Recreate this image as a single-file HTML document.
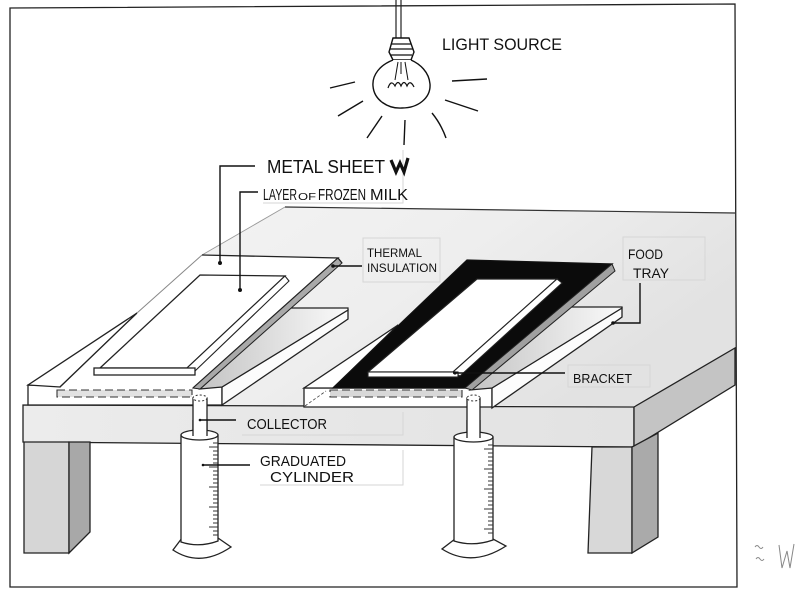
<!DOCTYPE html>
<html><head><meta charset="utf-8"><style>
html,body{margin:0;padding:0;background:#fff;}
svg{display:block;}
text{font-family:"Liberation Sans",sans-serif;fill:#111;}
</style></head><body>
<svg width="803" height="600" viewBox="0 0 803 600" xmlns="http://www.w3.org/2000/svg">
<defs>
<linearGradient id="tt" x1="0" y1="0" x2="1" y2="0.4">
<stop offset="0" stop-color="#f5f5f5"/><stop offset="0.6" stop-color="#eeeeee"/><stop offset="1" stop-color="#e2e2e2"/>
</linearGradient>
<linearGradient id="sl" x1="0" y1="0" x2="1" y2="0">
<stop offset="0" stop-color="#c4c4c4"/><stop offset="1" stop-color="#fafafa"/>
</linearGradient>
<linearGradient id="ff" x1="0" y1="0" x2="1" y2="0">
<stop offset="0" stop-color="#ececec"/><stop offset="1" stop-color="#e2e2e2"/>
</linearGradient>
</defs>
<rect width="803" height="600" fill="#fff"/>

<!-- frame -->
<path d="M10 8 L735 4 L737 587 L10 587 Z" fill="none" stroke="#222" stroke-width="1.3"/>

<!-- table top -->
<polygon points="285,207 735,213 735,348 634,406 222,405 29,405 28,385 137,313 202,255" fill="url(#tt)"/>
<path d="M285 207 L735 213" stroke="#333" stroke-width="1.2" fill="none"/>
<path d="M285 207 L202 255" stroke="#9a9a9a" stroke-width="0.9" fill="none"/>
<!-- table front face -->
<polygon points="23,405 634,407 634,447 23,442" fill="url(#ff)" stroke="#222" stroke-width="1.3"/>
<!-- right side face -->
<polygon points="634,407 735,348 735,385 634,447" fill="#c4c4c4" stroke="#222" stroke-width="1.3"/>
<!-- legs -->
<polygon points="24,442 69,442 69,553 24,553" fill="#d6d6d6" stroke="#222" stroke-width="1.3"/>
<polygon points="69,442 90,442 90,532 69,553" fill="#a8a8a8" stroke="#222" stroke-width="1.3"/>
<polygon points="592,447 632,447 632,553 588,553" fill="#d8d8d8" stroke="#222" stroke-width="1.3"/>
<polygon points="632,447 658,433 658,537 632,553" fill="#aaaaaa" stroke="#222" stroke-width="1.3"/>

<!-- LEFT ASSEMBLY -->
<polygon points="28,385 222,387 222,405 28,405" fill="#fff" stroke="#222" stroke-width="1.3"/>
<polygon points="222,387 348,310 348,319 222,405" fill="#fcfcfc" stroke="#222" stroke-width="1.3"/>
<polygon points="200,389 290,308 348,308 348,310 222,387" fill="url(#sl)" stroke="#222" stroke-width="1.2"/>
<polygon points="28,385 137,313 60,387" fill="#fff" stroke="#222" stroke-width="1.3"/>
<polygon points="60,387 137,313 202,255 338,258 193,388" fill="#fff" stroke="none"/>
<path d="M60 387 L137 313" stroke="#222" stroke-width="1.3" fill="none"/>
<path d="M137 313 L202 255" stroke="#888" stroke-width="1" fill="none"/>
<path d="M202 255 L338 258 L193 388" stroke="#222" stroke-width="1.3" fill="none"/>
<polygon points="193,388 338,258 342,263 200,389" fill="#a9a9a9" stroke="#222" stroke-width="1"/>
<path d="M338 258 L342 263" stroke="#222" stroke-width="1.3"/>
<!-- milk layer left -->
<polygon points="100,368 200,275 285,276 187,368" fill="#fff" stroke="#222" stroke-width="1.3"/>
<polygon points="187,368 285,276 289,281 195,371" fill="#fff" stroke="#222" stroke-width="1.1"/>
<rect x="94" y="368" width="101" height="7" fill="#fff" stroke="#222" stroke-width="1.3"/>
<rect x="57" y="390" width="135" height="7" fill="#e2e2e2" stroke="#333" stroke-width="1.1" stroke-dasharray="8,4"/>

<!-- RIGHT ASSEMBLY -->
<polygon points="304,388 492,388 492,407 304,407" fill="#fff" stroke="#222" stroke-width="1.3"/>
<polygon points="492,388 622,308 622,317 492,408" fill="#fcfcfc" stroke="#222" stroke-width="1.3"/>
<polygon points="470,390 560,307 622,307 622,308 492,388" fill="url(#sl)" stroke="#222" stroke-width="1.2"/>
<polygon points="304,388 398,325 333,388" fill="#fff" stroke="#222" stroke-width="1.3"/>
<polygon points="333,388 467,260 612,264 465,388" fill="#0b0b0b" stroke="#111" stroke-width="1.3"/>
<polygon points="465,388 612,264 615,271 472,390" fill="#a0a0a0" stroke="#222" stroke-width="1"/>
<polygon points="368,372 477,279 557,279 453,372" fill="#fff" stroke="#222" stroke-width="1.2"/>
<polygon points="453,372 557,279 562,283 460,376" fill="#fff" stroke="#222" stroke-width="1.1"/>
<rect x="368" y="372" width="90" height="5" fill="#fff" stroke="#222" stroke-width="1.1"/>
<rect x="330" y="390" width="132" height="7" fill="#d8d8d8" stroke="#333" stroke-width="1.1" stroke-dasharray="8,4"/>
<path d="M305 406 L326 391" stroke="#444" stroke-width="0.8" stroke-dasharray="3,2" fill="none"/>

<!-- collectors -->
<rect x="193" y="398" width="14" height="38" fill="#fff" stroke="#222" stroke-width="1.3"/>
<ellipse cx="200" cy="398" rx="7" ry="3" fill="#fff" stroke="#333" stroke-width="1" stroke-dasharray="2,2"/>
<rect x="467" y="398" width="13" height="40" fill="#fff" stroke="#222" stroke-width="1.3"/>
<ellipse cx="473.5" cy="398" rx="6.5" ry="3" fill="#fff" stroke="#333" stroke-width="1" stroke-dasharray="2,2"/>

<!-- left cylinder -->
<path d="M182 538 L173 550 Q200 568 231 547 L218 538 Z" fill="#fff" stroke="#222" stroke-width="1.3"/>
<path d="M181 435 L181 542 Q199 548 218 541 L218 435" fill="#fff" stroke="#222" stroke-width="1.3"/>
<ellipse cx="199.5" cy="435" rx="18.5" ry="5" fill="#fff" stroke="#222" stroke-width="1.3"/>
<rect x="193" y="420" width="14" height="15" fill="#fff"/>
<path d="M193 420 L193 436 M207 420 L207 436" stroke="#222" stroke-width="1.3"/>
<path d="M213 443h5M209 447h9M213 451h5M213 455h5M213 459h5M213 463h5M209 467h9M213 471h5M213 475h5M213 479h5M213 483h5M209 487h9M213 491h5M213 495h5M213 499h5M213 503h5M209 507h9M213 511h5M213 515h5M213 519h5M213 523h5M209 527h9M213 531h5M213 535h5" stroke="#333" stroke-width="1"/>

<!-- right cylinder -->
<path d="M455 539 L442 549 Q472 568 506 546 L493 539 Z" fill="#fff" stroke="#222" stroke-width="1.3"/>
<path d="M454 437 L454 541 Q473 547 493 540 L493 437" fill="#fff" stroke="#222" stroke-width="1.3"/>
<ellipse cx="473.5" cy="437" rx="19.5" ry="5" fill="#fff" stroke="#222" stroke-width="1.3"/>
<rect x="467" y="420" width="13" height="17" fill="#fff"/>
<path d="M467 420 L467 438 M480 420 L480 438" stroke="#222" stroke-width="1.3"/>
<path d="M488 445h5M484 449h9M488 453h5M488 457h5M488 461h5M488 465h5M484 469h9M488 473h5M488 477h5M488 481h5M488 485h5M484 489h9M488 493h5M488 497h5M488 501h5M488 505h5M484 509h9M488 513h5M488 517h5M488 521h5M488 525h5M484 529h9M488 533h5" stroke="#333" stroke-width="1"/>

<!-- faint label boxes -->
<g stroke="#d6d6d6" stroke-width="1" fill="none">
<path d="M263 203 H403 V150"/>
<rect x="363" y="238" width="77" height="44"/>
<rect x="623" y="237" width="82" height="43"/>
<rect x="568" y="365" width="82" height="22"/>
<path d="M242 435 H403 V412"/>
<path d="M260 485 H403 V450"/>
</g>

<!-- leaders -->
<g stroke="#111" stroke-width="1.4" fill="none">
<path d="M255 166 H220 V263"/>
<path d="M258 192 H240 V290"/>
<path d="M333 266 H362"/>
<path d="M640 283 V323 H613"/>
<path d="M453 373 H565"/>
<path d="M200 420 H236"/>
<path d="M203 465 H250"/>
</g>
<g fill="#111">
<circle cx="220" cy="263" r="2"/>
<circle cx="240" cy="290" r="2"/>
<circle cx="333" cy="266" r="1.8"/>
<circle cx="613" cy="323" r="1.8"/>
<circle cx="455" cy="373" r="1.6"/>
<circle cx="200" cy="420" r="1.3"/>
<circle cx="203" cy="465" r="1.3"/>
</g>

<!-- labels -->
<text x="442" y="50" font-size="17" textLength="120" lengthAdjust="spacingAndGlyphs">LIGHT SOURCE</text>
<text x="267" y="173" font-size="18" textLength="118" lengthAdjust="spacingAndGlyphs">METAL SHEET</text>
<path d="M391 160 L396 172 L400 163 L404 172 L408 158" stroke="#111" stroke-width="3.2" fill="none"/>
<text x="263" y="200" font-size="16" textLength="34" lengthAdjust="spacingAndGlyphs">LAYER</text>
<text x="298" y="200" font-size="10" textLength="18" lengthAdjust="spacingAndGlyphs">OF</text>
<text x="318" y="200" font-size="16" textLength="48" lengthAdjust="spacingAndGlyphs">FROZEN</text>
<text x="370" y="200" font-size="16" textLength="38" lengthAdjust="spacingAndGlyphs">MILK</text>
<text x="367" y="257" font-size="12" textLength="55" lengthAdjust="spacingAndGlyphs">THERMAL</text>
<text x="367" y="272" font-size="12" textLength="70" lengthAdjust="spacingAndGlyphs">INSULATION</text>
<text x="628" y="259" font-size="14" textLength="35" lengthAdjust="spacingAndGlyphs">FOOD</text>
<text x="633" y="278" font-size="14" textLength="36" lengthAdjust="spacingAndGlyphs">TRAY</text>
<text x="573" y="383" font-size="13" textLength="59" lengthAdjust="spacingAndGlyphs">BRACKET</text>
<text x="247" y="429" font-size="15" textLength="80" lengthAdjust="spacingAndGlyphs">COLLECTOR</text>
<text x="260" y="466" font-size="15" textLength="86" lengthAdjust="spacingAndGlyphs">GRADUATED</text>
<text x="270" y="482" font-size="15" textLength="84" lengthAdjust="spacingAndGlyphs">CYLINDER</text>

<!-- light bulb -->
<path d="M396 0 V38 M401 0 V38" stroke="#222" stroke-width="1.2"/>
<path d="M393 38 L409 38 L414 52 L411 60 L393 60 L389 52 Z" fill="#fff" stroke="#111" stroke-width="1.4"/>
<path d="M391 44 H411 M390 49 H413 M391 55 H412" stroke="#111" stroke-width="1.3"/>
<path d="M393 60 C380 65 372 75 373 86 C374 100 388 109 402 108 C418 108 431 98 430 84 C429 72 420 64 411 60" fill="#fff" stroke="#111" stroke-width="1.4"/>
<path d="M398 62 L395 80 M405 62 L408 80 M401 62 L401 74" stroke="#111" stroke-width="1"/>
<path d="M388 88 Q391 79 395 86 Q398 79 401 86 Q404 79 407 86 Q410 79 414 87" stroke="#111" stroke-width="1.2" fill="none"/>
<g stroke="#111" stroke-width="1.4" fill="none">
<path d="M330 88 L355 82"/>
<path d="M338 116 L363 101"/>
<path d="M367 138 L382 116"/>
<path d="M405 120 L404 145"/>
<path d="M432 113 Q441 124 446 138"/>
<path d="M445 100 L478 111"/>
<path d="M452 81 L487 79"/>
</g>

<!-- signature -->
<g stroke="#888" stroke-width="1" fill="none">
<path d="M755 547 q2 -3 4 0 q2 3 4 0"/>
<path d="M756 559 q2 -3 4 0 q2 3 4 0"/>
<path d="M779 545 L782 568 L787 551 L790 568 L794 544"/>
</g>
</svg>
</body></html>
